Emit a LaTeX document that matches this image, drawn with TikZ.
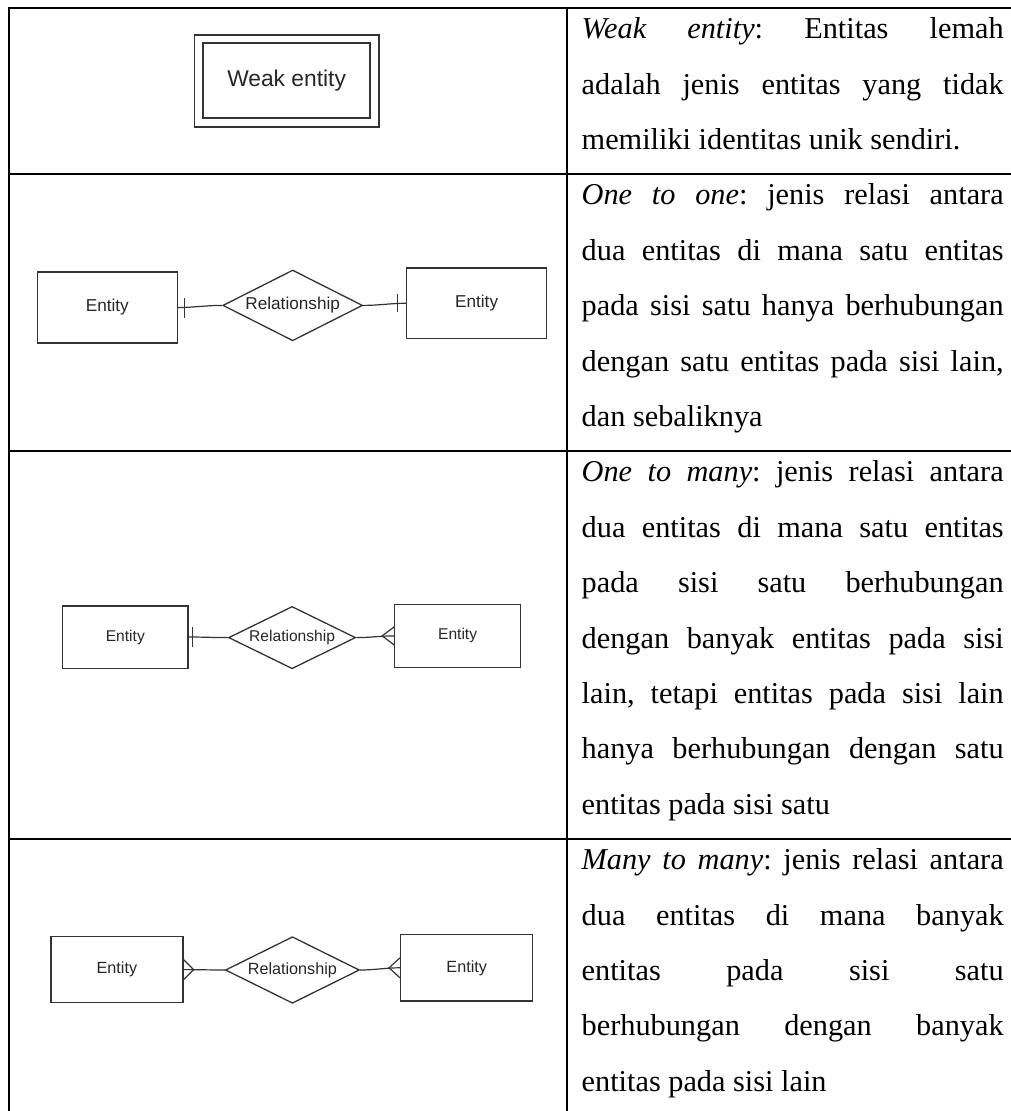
\documentclass[tikz,border=0pt]{standalone}
\usepackage{fontspec}
\setmainfont{Liberation Serif}
\newfontfamily\erfont{Liberation Sans}
\usetikzlibrary{shapes.geometric}
\hbadness=10000
\tolerance=10000

\begin{document}
\begin{tikzpicture}[x=1pt,y=-1pt,
  grid/.style={line width=2.4pt},
  er/.style={font=\erfont\fontsize{#1}{#1}\selectfont},
  ent/.style={draw=black!80,line width=1.3pt,rectangle,inner sep=0pt,text=black!85},
  rel/.style={draw=black!80,line width=1.3pt,diamond,aspect=2,inner sep=0pt,text=black!85},
  link/.style={draw=black!80,line width=1.2pt},
  cell/.style={anchor=north west,inner sep=0pt,text width=422pt,align=justify,
    font={\fontsize{30.3}{55.4}\selectfont\frenchspacing}}]
  \useasboundingbox (0,0) rectangle (1010,1111);

  % table
  \draw[grid] (9,8) rectangle (1012,1116);
  \draw[grid] (567,8) -- (567,1116);
  \foreach \y in {174.2,451.2,839}
    \draw[grid] (9,\y) -- (1012,\y);

  % weak entity
  \node[ent, er=22.8, double, double distance=6.8pt, line width=1.8pt,
    minimum width=175.5pt, minimum height=83.5pt] (wk) at (286.6,80.75) {Weak entity};

  % one to one
  \node[ent, er=17.2, minimum width=139.7pt, minimum height=71pt] (e2a) at (107.3,307.5) {Entity};
  \node[rel, er=17.2, minimum width=139.7pt, minimum height=70.8pt] (r2) at (292.7,305.4) {Relationship};
  \node[ent, er=17.2, minimum width=140.4pt, minimum height=70.9pt] (e2b) at (476.6,303.3) {Entity};
  \draw[link] (e2a.east) to[out=0,in=180] (r2.west);
  \draw[link] (r2.east) to[out=0,in=180] (e2b.west);
  \draw[link] ([xshift=6.6pt,yshift=-10pt]e2a.east) -- ([xshift=6.6pt,yshift=10pt]e2a.east);
  \draw[link] ([xshift=-8.4pt,yshift=-9pt]e2b.west) -- ([xshift=-8.4pt,yshift=9pt]e2b.west);

  % one to many
  \node[ent, er=15.6, minimum width=125.6pt, minimum height=62.3pt] (e3a) at (125.3,637) {Entity};
  \node[rel, er=15.6, minimum width=127pt, minimum height=62.3pt] (r3) at (292.1,637.6) {Relationship};
  \node[ent, er=15.6, minimum width=125.6pt, minimum height=63pt] (e3b) at (457.6,635.9) {Entity};
  \draw[link] (e3a.east) to[out=0,in=180] (r3.west);
  \draw[link] (r3.east) to[out=0,in=180] (e3b.west);
  \draw[link] ([xshift=3.5pt,yshift=-10pt]e3a.east) -- ([xshift=3.5pt,yshift=10pt]e3a.east);
  \draw[link] ([yshift=9pt]e3b.west) -- ([xshift=-12pt]e3b.west) -- ([yshift=-9pt]e3b.west);

  % many to many
  \node[ent, er=16.2, minimum width=132pt, minimum height=65.8pt] (e4a) at (116.9,969.6) {Entity};
  \node[rel, er=16.2, minimum width=134pt, minimum height=66.6pt] (r4) at (292.4,970) {Relationship};
  \node[ent, er=16.2, minimum width=132.1pt, minimum height=66.6pt] (e4b) at (466.7,967.8) {Entity};
  \draw[link] (e4a.east) to[out=0,in=180] (r4.west);
  \draw[link] (r4.east) to[out=0,in=180] (e4b.west);
  \draw[link] ([yshift=10pt]e4a.east) -- ([xshift=10pt]e4a.east) -- ([yshift=-10pt]e4a.east);
  \draw[link] ([yshift=10pt]e4b.west) -- ([xshift=-11pt]e4b.west) -- ([yshift=-10pt]e4b.west);

  % descriptions
  \node[cell] (t1) at (581.5,-0.3) {\strut\textit{Weak entity}: Entitas lemah\linebreak
    adalah jenis entitas yang tidak\linebreak
    memiliki identitas unik sendiri.};
  \node[cell] (t2) at (581.5,165.9) {\strut\textit{One to one}: jenis relasi antara\linebreak
    dua entitas di mana satu entitas\linebreak
    pada sisi satu hanya berhubungan\linebreak
    dengan satu entitas pada sisi lain,\linebreak
    dan sebaliknya};
  \node[cell] (t3) at (581.5,442.9) {\strut\textit{One to many}: jenis relasi antara\linebreak
    dua entitas di mana satu entitas\linebreak
    pada sisi satu berhubungan\linebreak
    dengan banyak entitas pada sisi\linebreak
    lain, tetapi entitas pada sisi lain\linebreak
    hanya berhubungan dengan satu\linebreak
    entitas pada sisi satu};
  \node[cell] (t4) at (581.5,830.7) {\strut\textit{Many to many}: jenis relasi antara\linebreak
    dua entitas di mana banyak\linebreak
    entitas pada sisi satu\linebreak
    berhubungan dengan banyak\linebreak
    entitas pada sisi lain};
\end{tikzpicture}
\end{document}
